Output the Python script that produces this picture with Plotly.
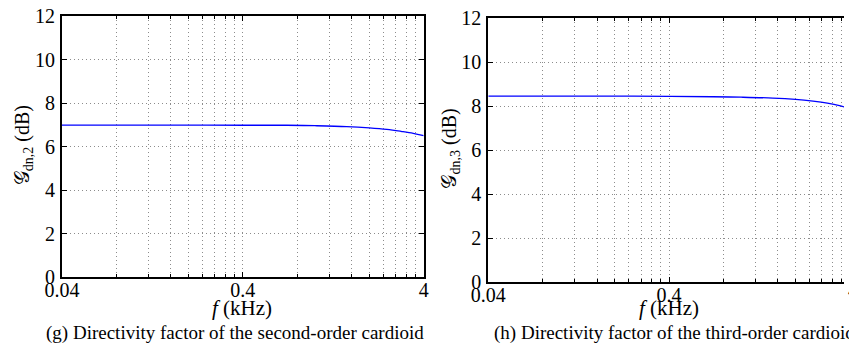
import math
import plotly.graph_objects as go

# ---- data ----
freq_khz = [0.04, 0.1, 0.2, 0.4, 0.7, 1.0, 1.5, 2.0, 2.5, 3.0, 3.5, 4.0]
gdn2_db = [7.00, 7.00, 7.00, 6.99, 6.99, 6.97, 6.93, 6.87, 6.80, 6.71, 6.62, 6.51]
gdn3_db = [8.45, 8.45, 8.45, 8.44, 8.42, 8.40, 8.36, 8.30, 8.22, 8.13, 8.02, 7.88]

x_major_vals = [0.04, 0.4, 4]
x_major_text = ["0.04", "0.4", "4"]
x_minor_vals = [0.04 * k for k in range(2, 10)] + [0.4 * k for k in range(2, 10)]
y_ticks = [0, 2, 4, 6, 8, 10, 12]

captions = ["(g) Directivity factor of the second-order cardioid",
            "(h) Directivity factor of the third-order cardioid"]
ylabels = ["𝒢<sub>dn,2</sub> (dB)", "𝒢<sub>dn,3</sub> (dB)"]
xlabel = "<i>f</i> (kHz)"

FONT = "Liberation Serif"
W, H = 849, 349
ML, MR, MT, MB = 62, 0, 16, 66
PW = W - ML - MR
PH = H - MT - MB

def px_x(p):
    return (p - ML) / PW

def px_y(p):
    return (H - MB - p) / PH

fig = go.Figure()
fig.add_trace(go.Scatter(x=freq_khz, y=gdn2_db, mode="lines", line=dict(color="#0000ff", width=1.3, shape="spline"),
                         xaxis="x", yaxis="y", showlegend=False))
fig.add_trace(go.Scatter(x=freq_khz, y=gdn3_db, mode="lines", line=dict(color="#0000ff", width=1.3, shape="spline"),
                         xaxis="x2", yaxis="y2", showlegend=False))

lo = math.log10(0.04)
dec_px = (426 - 62) / 2.0
right_end = lo + (W - 491) / dec_px
GRID = "#8c8c8c"
DASH = "1px,3px"

def xaxis(domain, rng, anchor):
    return dict(type="log", domain=domain, range=rng, anchor=anchor,
                tickmode="array", tickvals=x_major_vals, ticktext=x_major_text,
                ticks="inside", ticklen=5, tickwidth=1.2, tickcolor="black",
                showline=True, linecolor="black", linewidth=2, mirror="ticks",
                showgrid=True, gridcolor=GRID, griddash=DASH, gridwidth=1,
                minor=dict(tickmode="array", tickvals=x_minor_vals, ticks="inside", ticklen=3,
                           tickcolor="black", tickwidth=1, showgrid=True,
                           gridcolor=GRID, griddash=DASH, gridwidth=1),
                tickfont=dict(family=FONT, size=20, color="black"), zeroline=False,
                ticklabelstandoff=-6)

def yaxis(domain, anchor, mirror):
    return dict(domain=domain, range=[0, 12], anchor=anchor,
                tickmode="array", tickvals=y_ticks,
                ticks="inside", ticklen=5, tickwidth=1.2, tickcolor="black",
                showline=True, linecolor="black", linewidth=2, mirror=mirror,
                showgrid=True, gridcolor=GRID, griddash=DASH, gridwidth=1,
                tickfont=dict(family=FONT, size=20, color="black"), zeroline=False,
                ticklabelstandoff=1)

fig.update_layout(
    width=W, height=H,
    margin=dict(l=ML, r=MR, t=MT, b=MB),
    paper_bgcolor="white", plot_bgcolor="white",
    xaxis=xaxis([0, px_x(426)], [lo, math.log10(4)], "y"),
    yaxis=yaxis([px_y(277.3), px_y(16.3)], "x", "ticks"),
    xaxis2=xaxis([px_x(491), 1.0], [lo, right_end], "y2"),
    yaxis2=yaxis([px_y(282), px_y(18)], "x2", False),
)

ann = []
# x axis labels
for cx in (243, 673):
    ann.append(dict(text=xlabel, xref="paper", yref="paper", x=px_x(cx), y=px_y(308), showarrow=False,
                    font=dict(family=FONT, size=21, color="black"), xanchor="center", yanchor="middle"))
# captions
ann.append(dict(text=captions[0], xref="paper", yref="paper", x=px_x(236), y=px_y(333), showarrow=False,
                font=dict(family=FONT, size=19, color="black"), xanchor="center", yanchor="middle"))
ann.append(dict(text=captions[1], xref="paper", yref="paper", x=px_x(495), y=px_y(333), showarrow=False,
                font=dict(family=FONT, size=19, color="black"), xanchor="left", yanchor="middle"))
# y labels
ann.append(dict(text=ylabels[0], xref="paper", yref="paper", x=px_x(23), y=px_y(145), showarrow=False,
                textangle=-90, font=dict(family=FONT, size=20, color="black"), xanchor="center", yanchor="middle"))
ann.append(dict(text=ylabels[1], xref="paper", yref="paper", x=px_x(452), y=px_y(149), showarrow=False,
                textangle=-90, font=dict(family=FONT, size=20, color="black"), xanchor="center", yanchor="middle"))
# partially visible "4" tick label at right edge
ann.append(dict(text="4", xref="paper", yref="paper", x=px_x(858), y=px_y(290), showarrow=False,
                font=dict(family=FONT, size=20, color="black"), xanchor="center", yanchor="middle"))
fig.update_layout(annotations=ann)

fig.write_html("out.html")
